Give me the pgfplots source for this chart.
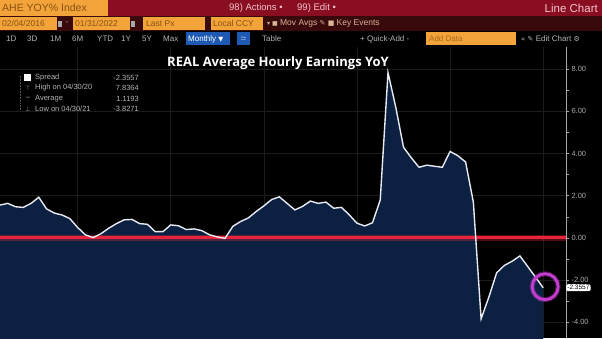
\documentclass[border=0pt]{standalone}
\usepackage{pgfplots}
\pgfplotsset{compat=1.18}
\usepackage{pgfplotstable}
\usepackage{fontspec}
\setmainfont{Liberation Sans}
\newfontfamily\titlefont{Open Sans}
\newfontfamily\symfont{DejaVu Sans}
\definecolor{maroon}{HTML}{8A0E22}
\definecolor{rowtwo}{HTML}{3A090C}
\definecolor{orangef}{HTML}{F2A33A}
\definecolor{orangetxt}{HTML}{8A5212}
\definecolor{pinktxt}{HTML}{F2C4CC}
\definecolor{tantxt}{HTML}{D8B498}
\definecolor{navy}{HTML}{0C2042}
\definecolor{gridc}{HTML}{1C1C1C}
\definecolor{axisgrey}{HTML}{A8A8A8}
\definecolor{redl}{HTML}{E8243C}
\definecolor{whitel}{HTML}{E8EAF2}
\definecolor{magentac}{HTML}{C43CD0}
\definecolor{bluebox}{HTML}{1E5AB4}
\definecolor{greytxt}{HTML}{B4B4B4}

\pgfplotstableread{
idx val
0 1.56
1 1.64
2 1.48
3 1.45
4 1.64
5 1.93
6 1.38
7 1.18
8 1.09
9 0.92
10 0.50
11 0.15
12 0.02
13 0.20
14 0.46
15 0.68
16 0.86
17 0.88
18 0.68
19 0.65
20 0.30
21 0.30
22 0.62
23 0.58
24 0.40
25 0.43
26 0.35
27 0.15
28 0.05
29 -0.02
30 0.55
31 0.78
32 0.95
33 1.25
34 1.52
35 1.82
36 1.95
37 1.64
38 1.33
39 1.50
40 1.75
41 1.64
42 1.70
43 1.41
44 1.45
45 1.10
46 0.70
47 0.57
48 0.72
49 1.80
50 7.84
51 6.20
52 4.30
53 3.80
54 3.35
55 3.45
56 3.40
57 3.35
58 4.10
59 3.90
60 3.60
61 1.70
62 -3.83
63 -2.80
64 -1.65
65 -1.30
66 -1.10
67 -0.85
68 -1.35
69 -1.85
70 -2.36
}\spread

\begin{document}
\begin{tikzpicture}[x=1pt,y=1pt]
\path[use as bounding box] (0,0) rectangle (602,338);
\clip (0,0) rectangle (602,338);
\fill[black] (0,0) rectangle (602,338);

% ---- row 1
\fill[maroon] (0,322) rectangle (602,338);
\fill[orangef] (0,322) rectangle (108,338);
\node[anchor=west, text=orangetxt, inner sep=0, font=\fontsize{10.5}{11}\selectfont] at (2,330) {AHE YOY\% Index};
\node[anchor=west, text=pinktxt, inner sep=0, font=\fontsize{9.5}{10}\selectfont] at (229,330) {98) Actions \textbullet};
\node[anchor=west, text=pinktxt, inner sep=0, font=\fontsize{9.5}{10}\selectfont] at (297,330) {99) Edit \textbullet};
\node[anchor=east, text=pinktxt, inner sep=0, font=\fontsize{11.5}{12}\selectfont] at (598,330) {Line Chart};

% ---- row 2
\fill[rowtwo] (0,307) rectangle (602,322);
\fill[orangef] (0,308) rectangle (57,321);
\fill[axisgrey] (58,311) rectangle (62,317);
\fill[orangef] (73,308) rectangle (130,321);
\fill[axisgrey] (131,311) rectangle (135,317);
\fill[orangef] (143,308) rectangle (205,321);
\fill[orangef] (211,308) rectangle (263,321);
\node[anchor=west, text=orangetxt, inner sep=0, font=\fontsize{8.5}{9}\selectfont] at (2,314.5) {02/04/2016};
\node[anchor=center, text=greytxt, inner sep=0, font=\fontsize{8}{9}\selectfont] at (67,314.5) {-};
\node[anchor=west, text=orangetxt, inner sep=0, font=\fontsize{8.5}{9}\selectfont] at (75,314.5) {01/31/2022};
\node[anchor=west, text=orangetxt, inner sep=0, font=\fontsize{8.5}{9}\selectfont] at (146,314.5) {Last Px};
\node[anchor=west, text=orangetxt, inner sep=0, font=\fontsize{8.5}{9}\selectfont] at (213,314.5) {Local CCY};
\node[anchor=west, text=tantxt, inner sep=0, font=\fontsize{8.5}{9}\selectfont] at (267,314.5) {{\symfont\fontsize{6}{7}\selectfont ▾\ ■}\ Mov Avgs {\symfont\fontsize{7}{8}\selectfont ✎\ ■}\ Key Events};

% ---- row 3
\foreach \t/\xx in {1D/6,3D/27,1M/50,6M/72,YTD/97,1Y/121,5Y/142,Max/163}{
  \node[anchor=west, text=greytxt, inner sep=0, font=\fontsize{8}{9}\selectfont] at (\xx,299) {\t};
}
\fill[bluebox] (186,292.5) rectangle (230,305.5);
\node[anchor=west, text=white, inner sep=0, font=\fontsize{8}{9}\selectfont] at (188,299) {Monthly {\symfont\fontsize{6.5}{7}\selectfont ▼}};
\fill[bluebox] (237,292.5) rectangle (250,305.5);
\node[text=white, inner sep=0, font=\fontsize{7}{8}\selectfont] at (243.5,299) {$\simeq$};
\node[anchor=west, text=greytxt, inner sep=0, font=\fontsize{8}{9}\selectfont] at (262,299) {Table};
\node[anchor=west, text=greytxt, inner sep=0, font=\fontsize{8}{9}\selectfont] at (360,299) {+ Quick-Add -};
\fill[orangef] (426,292.5) rectangle (516,305.5);
\node[anchor=west, text=orangetxt!70!orangef, inner sep=0, font=\fontsize{8}{9}\selectfont] at (429,299) {Add Data};
\node[anchor=west, text=greytxt, inner sep=0, font=\fontsize{8}{9}\selectfont] at (521,299) {{\symfont\fontsize{7}{8}\selectfont « ✎} Edit Chart {\symfont\fontsize{7}{8}\selectfont ⚙}};

% ---- chart
\begin{axis}[
  at={(0,0)}, anchor=south west,
  scale only axis, width=566pt, height=291pt,
  xmin=0, xmax=72.94, ymin=-4.74, ymax=9.05,
  axis y line=right, axis x line=bottom,
  x axis line style={draw=none},
  xtick={10,22,34,46,58,70}, xticklabels={}, xtick style={draw=none},
  xmajorgrids, ymajorgrids,
  grid style={gridc, line width=0.6pt},
  ytick={-4,-2,0,2,4,6,8},
  minor ytick={-3,-1,1,3,5,7},
  y axis line style={axisgrey, line width=0.7pt, -},
  ytick style={axisgrey, line width=0.7pt},
  minor tick length=3pt, major tick length=3pt,
  tick align=outside,
  yticklabel style={text=axisgrey, font=\fontsize{7.5}{8}\selectfont, xshift=-1pt},
  /pgf/number format/.cd, fixed, fixed zerofill, precision=2, assume math mode=true,
  /pgfplots/.cd,
  clip mode=individual,
]
\addplot[fill=navy, draw=none] table[x=idx, y=val] {\spread} |- (axis cs:0,-6) -- cycle;
\addplot[redl, opacity=0.35, line width=5.5pt] coordinates {(0,0) (72.94,0)};
\addplot[redl, line width=3pt] coordinates {(0,0) (72.94,0)};
\addplot[whitel, line width=1.4pt] table[x=idx, y=val] {\spread};
\addplot[only marks, mark=o, mark size=13pt, mark options={draw=magentac, line width=5pt, opacity=0.35}] coordinates {(70.25,-2.31)};
\addplot[only marks, mark=o, mark size=13pt, mark options={draw=magentac, line width=2.8pt}] coordinates {(70.25,-2.31)};
\node[fill=white, rounded corners=2pt, inner sep=1.2pt, anchor=west, text=black, font=\fontsize{6.5}{7}\selectfont] at (axis cs:72.94,-2.3557) {-2.3557};
\end{axis}

% ---- title
\node[text=white, inner sep=0, font=\titlefont\bfseries\fontsize{13}{14}\selectfont] at (278,275) {REAL Average Hourly Earnings YoY};

% ---- legend
\fill[white] (24,257) rectangle (31,264);
\draw[axisgrey!50!black, densely dotted, line width=0.5pt] (20,262) -- (20,228);
\begin{scope}[every node/.style={inner sep=0, text=greytxt, font=\fontsize{7.5}{8}\selectfont}]
\node[anchor=west] at (35,260) {Spread};
\node[anchor=east] at (139,260) {-2.3557};
\node[anchor=center, font=\fontsize{6}{7}\selectfont] at (28,250) {$\top$};
\node[anchor=west] at (35,250) {High on 04/30/20};
\node[anchor=east] at (139,250) {7.8364};
\node[anchor=center] at (28,239.5) {--};
\node[anchor=west] at (35,239.5) {Average};
\node[anchor=east] at (139,239.5) {1.1193};
\node[anchor=center, font=\fontsize{6}{7}\selectfont] at (28,229) {$\bot$};
\node[anchor=west] at (35,229) {Low on 04/30/21};
\node[anchor=east] at (139,229) {-3.8271};
\end{scope}
\end{tikzpicture}
\end{document}
